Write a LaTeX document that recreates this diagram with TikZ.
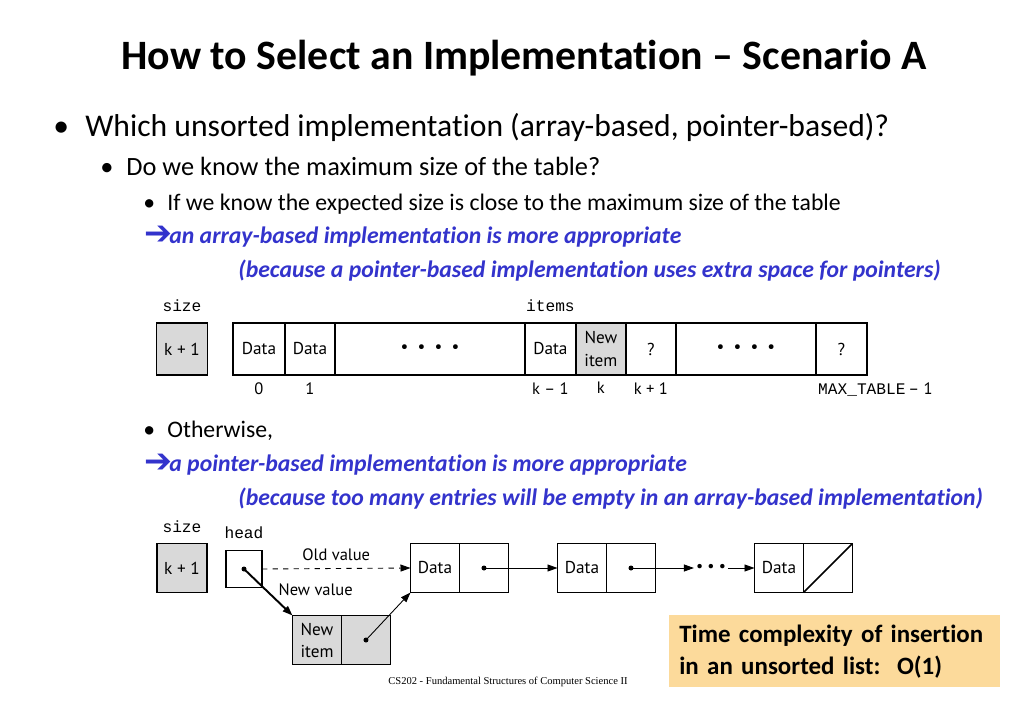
\documentclass[tikz,border=0pt]{standalone}
\usepackage{fontspec}
\setmainfont{Carlito}[Ligatures=NoCommon]
\setsansfont{PT Sans}
\setmonofont{Liberation Mono}
\newfontfamily\symfont{DejaVu Sans}
\newfontfamily\footfont{Liberation Serif}
\usetikzlibrary{positioning,arrows.meta,calc}
\definecolor{slideblue}{RGB}{51,51,204}
\definecolor{notefill}{RGB}{252,218,155}
\definecolor{cellgray}{RGB}{217,217,217}
\newcommand{\fsz}[1]{\fontsize{#1pt}{1.28\dimexpr#1pt\relax}\selectfont}
\newcommand{\hence}{{\symfont\char"2794}}
\tikzset{
  txt/.style={anchor=base west,inner sep=0pt},
  bluetxt/.style={txt,text=slideblue,font=\fsz{13.5}\bfseries\itshape},
  cell/.style={draw,line width=0.9pt,outer sep=0pt,inner sep=0pt,
    minimum height=1.04cm,font=\sffamily\fsz{9.8},align=center},
  graycell/.style={cell,fill=cellgray},
  lcell/.style={cell,minimum width=0.98cm,minimum height=0.98cm},
  glcell/.style={lcell,fill=cellgray},
  mono/.style={inner sep=0pt,font=\ttfamily\fsz{9.2}},
  idx/.style={inner sep=0pt,font=\sffamily\fsz{9.4}},
  ptr/.style={circle,fill,inner sep=0pt,minimum size=1mm},
  link/.style={-{Triangle[length=2mm,width=1.4mm]},line width=0.5pt},
  >=Stealth
}
\begin{document}
\begin{tikzpicture}[x=0.02cm,y=-0.02cm]
\useasboundingbox (0,0) rectangle (1024,709);

% title and bullets
\node[anchor=base,inner sep=0pt,font=\fsz{23.8}\bfseries] (title) at (524,70)
  {How to Select an Implementation -- Scenario A};
\node[txt,font=\fsz{18}] (b1) at (53,137) {\textbullet};
\node[txt,font=\fsz{18}] (l1) at (85,137) {Which unsorted implementation (array-based, pointer-based)?};
\node[txt,font=\fsz{15}] (b2) at (100,176) {\textbullet};
\node[txt,font=\fsz{15}] (l2) at (126,176) {Do we know the maximum size of the table?};
\node[txt,font=\fsz{13.5}] (b3) at (143,211) {\textbullet};
\node[txt,font=\fsz{13.5}] (l3) at (167,211) {If we know the expected size is close to the maximum size of the table};
\node[txt,text=slideblue,font=\fsz{19}] (a1) at (144,245) {\hence};
\node[bluetxt] (l4) at (169,244) {an array-based implementation is more appropriate};
\node[bluetxt] (l5) at (238,278) {(because a pointer-based implementation uses extra space for pointers)};

% array-based
\node[graycell,minimum width=1.02cm] (sz) at (182,349) {k + 1};
\node[mono,above=0.22cm of sz] (szl) {size};
\node[cell,minimum width=1.04cm,anchor=west] (c0) at (233,349) {Data};
\node[cell,minimum width=1.0cm,right=0pt of c0] (c1) {Data};
\node[cell,minimum width=3.8cm,right=0pt of c1] (c2) {\textbullet\ \ \textbullet\ \ \textbullet\ \ \textbullet};
\node[cell,minimum width=1.02cm,right=0pt of c2] (c3) {Data};
\node[graycell,minimum width=1.0cm,right=0pt of c3] (c4) {New\\item};
\node[cell,minimum width=1.0cm,right=0pt of c4] (c5) {?};
\node[cell,minimum width=2.8cm,right=0pt of c5] (c6) {\textbullet\ \ \textbullet\ \ \textbullet\ \ \textbullet};
\node[cell,minimum width=1.02cm,right=0pt of c6] (c7) {?};
\node[mono,above=0.22cm of c3] (itl) {items};
\node[idx,below=0.14cm of c0] (i0) {0};
\node[idx,below=0.14cm of c1] (i1) {1};
\node[idx,below=0.14cm of c3] (i3) {k -- 1};
\node[idx,below=0.14cm of c4] (i4) {k};
\node[idx,below=0.14cm of c5] (i5) {k + 1};
\node[idx,anchor=north west] (i7) at ($(c7.south west)+(2,7)$) {{\ttfamily\fsz{9.2}MAX\_TABLE}\,-- 1};

% otherwise
\node[txt,font=\fsz{13.5}] (b4) at (143,437) {\textbullet};
\node[txt,font=\fsz{13.5}] (l6) at (167,437) {Otherwise,};
\node[txt,text=slideblue,font=\fsz{19}] (a2) at (144,472) {\hence};
\node[bluetxt] (l7) at (169,471) {a pointer-based implementation is more appropriate};
\node[bluetxt] (l8) at (238,505) {(because too many entries will be empty in an array-based implementation)};

% pointer-based
\node[graycell,minimum width=1.0cm,minimum height=0.98cm] (sz2) at (182,568) {k + 1};
\node[mono,above=0.22cm of sz2] (szl2) {size};
\node[cell,minimum width=0.72cm,minimum height=0.74cm] (hd) at (244,569) {};
\node[mono,above=0.22cm of hd] (hdl) {head};
\node[ptr] (hp) at (hd.center) {};
\node[lcell] (d1) at (435,568) {Data};
\node[lcell,right=0pt of d1] (p1) {};
\node[ptr] (pp1) at (p1.center) {};
\node[lcell] (d2) at (582,568) {Data};
\node[lcell,right=0pt of d2] (p2) {};
\node[ptr] (pp2) at (p2.center) {};
\node[inner sep=1pt,font=\sffamily\fsz{9}] (gap) at (711,568) {\textbullet\ \textbullet\ \textbullet};
\node[lcell] (d3) at (779,568) {Data};
\node[lcell,right=0pt of d3] (p3) {};
\node[glcell] (nd) at (317,640) {New\\item};
\node[glcell,right=0pt of nd] (np) {};
\node[ptr] (npp) at (np.center) {};

\draw[link,dashed] (hd.east) -- node[above=1pt,font=\sffamily\fsz{9.4}] {Old value} (d1.west);
\draw[link,line width=1.1pt] (hp.center) -- node[pos=0.45,right=1.2mm,font=\sffamily\fsz{9.4}] {New value} (nd.north west);
\draw[link] (npp.center) -- (d1.south west);
\draw[link] (pp1.center) -- (d2.west);
\draw[link] (pp2.center) -- (gap.west);
\draw[link] (gap.east) -- (d3.west);
\draw[line width=0.9pt] (p3.south west) -- (p3.north east);

% note and footer
\node[anchor=north west,fill=notefill,minimum width=6.62cm,minimum height=1.44cm,
  inner xsep=0.2cm,align=left,text width=6.22cm,font=\fsz{14.2}\bfseries] (note) at (669,615)
  {Time complexity of insertion\\in an unsorted list:\ \ O(1)};
\node[anchor=base,inner sep=0pt,font=\footfont\fsz{6}] (foot) at (508,684)
  {CS202 - Fundamental Structures of Computer Science II};
\end{tikzpicture}
\end{document}
